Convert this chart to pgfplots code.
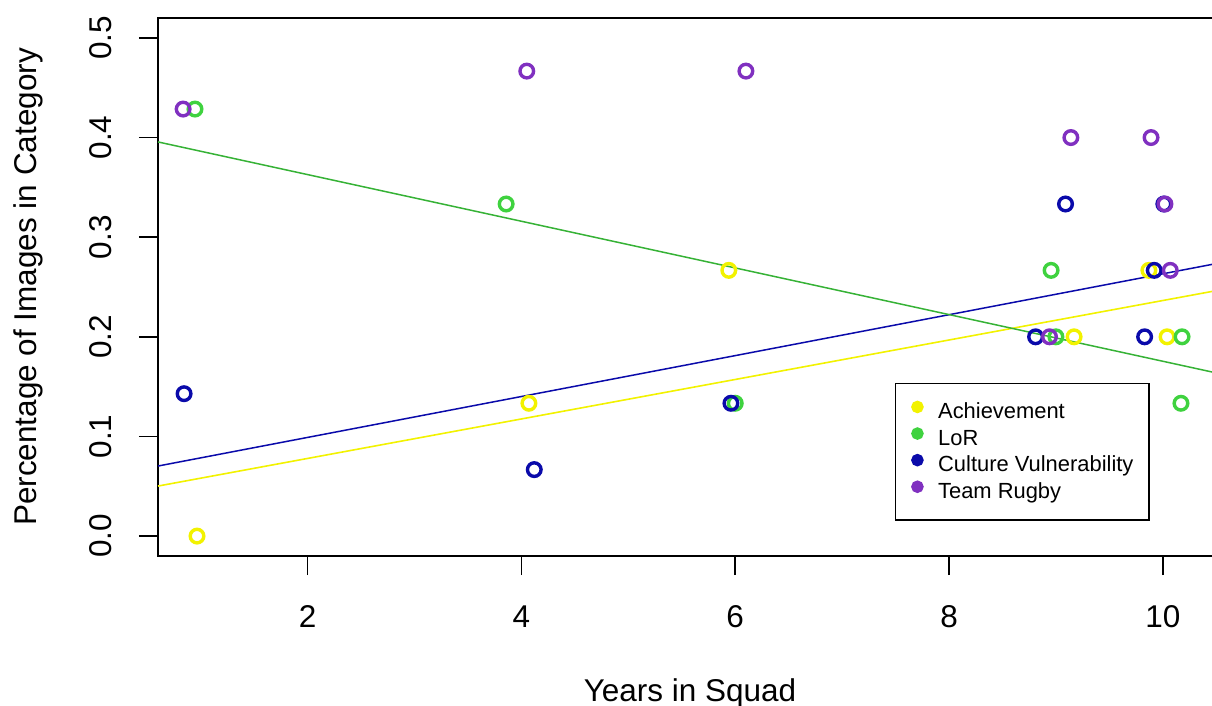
\documentclass[border=0pt]{standalone}
\usepackage{fontspec}
\setmainfont{Liberation Sans}
\usepackage{pgfplots}
\pgfplotsset{compat=1.18}
\definecolor{ylw}{HTML}{F2F200}
\definecolor{grn}{HTML}{3FD23F}
\definecolor{blu}{HTML}{0A0AAA}
\definecolor{pur}{HTML}{8030C0}
\begin{document}
\begin{tikzpicture}
\begin{axis}[
  at={(0,0)}, anchor=south west,
  scale only axis,
  width=532bp, height=269bp,
  xmin=0.6, xmax=10.554, ymin=-0.02, ymax=0.52,
  xtick={2,4,6,8,10},
  ytick={0,0.1,0.2,0.3,0.4,0.5},
  yticklabels={0.0,0.1,0.2,0.3,0.4,0.5},
  tick align=outside, xtick pos=bottom, ytick pos=left,
  major tick length=9.5bp,
  every tick/.style={black, line width=0.75bp},
  axis line style={black, line width=1.1bp},
  /pgf/number format/assume math mode=true,
  ticklabel style={font=\fontsize{15.8}{18}\selectfont, inner sep=0pt},
  yticklabel style={xshift=-13.5bp, rotate=90, anchor=south},
  xticklabel style={yshift=-15bp, anchor=north},
  xlabel={Years in Squad},
  ylabel={Percentage of Images in Category},
  every axis x label/.style={at={(axis description cs:0.5,-0.2268)}, anchor=north, inner sep=0pt, font=\fontsize{15.8}{18}\selectfont},
  every axis y label/.style={at={(axis description cs:-0.1363,0.5)}, rotate=90, anchor=north, inner sep=0pt, font=\fontsize{15.8}{18}\selectfont},
  legend style={at={(axis cs:7.495,0.1536)}, anchor=north west, draw=black, line width=0.7bp, fill=white,
    inner xsep=7.7bp, inner ysep=8.45bp, row sep=1.9bp, font=\fontsize{11}{13}\selectfont,
    nodes={inner sep=0pt, text height=8bp, text depth=2.5bp},
    /tikz/every odd column/.style={column sep=7.2bp}},
  legend cell align=left,
  legend image code/.code={\fill[#1] (0bp,3bp) circle (2.8bp);},
  clip mode=individual,
]
\addlegendimage{ylw}
\addlegendentry{Achievement}
\addlegendimage{grn}
\addlegendentry{LoR}
\addlegendimage{blu}
\addlegendentry{Culture Vulnerability}
\addlegendimage{pur}
\addlegendentry{Team Rugby}

% regression lines
\addplot[forget plot, ylw, line width=0.8bp] coordinates {(0.6,0.0502) (10.554,0.2474)};
\addplot[forget plot, blu, line width=0.75bp] coordinates {(0.6,0.0703) (10.554,0.2746)};
\addplot[forget plot, grn!85!black, line width=0.75bp] coordinates {(0.6,0.3956) (10.554,0.1625)};

% Achievement
\addplot[forget plot, only marks, mark=o, mark size=3.4bp, ylw, mark options={line width=1.7bp}] coordinates {
(0.965,0) (4.07,0.1333) (5.94,0.2667) (9.17,0.2) (10.04,0.2) (9.87,0.2667)
};
% LoR
\addplot[forget plot, only marks, mark=o, mark size=3.4bp, grn, mark options={line width=1.7bp}] coordinates {
(0.946,0.4286) (3.857,0.3333) (6.0,0.1333) (8.955,0.2667) (9.0,0.2) (10.18,0.2) (10.17,0.1333)
};
% Culture Vulnerability
\addplot[forget plot, only marks, mark=o, mark size=3.4bp, blu, mark options={line width=1.7bp}] coordinates {
(0.844,0.1429) (4.12,0.0667) (5.96,0.1333) (9.09,0.3333) (9.92,0.2667) (8.81,0.2) (9.83,0.2) (10.01,0.3333)
};
% Team Rugby
\addplot[forget plot, only marks, mark=o, mark size=3.4bp, pur, mark options={line width=1.7bp}] coordinates {
(0.835,0.4286) (4.05,0.4667) (6.10,0.4667) (9.14,0.4) (9.89,0.4) (10.02,0.3333) (10.07,0.2667) (8.94,0.2)
};
\end{axis}
\pgfresetboundingbox
\useasboundingbox (-79bp,-75bp) rectangle (527bp,278bp);
\end{tikzpicture}
\end{document}
